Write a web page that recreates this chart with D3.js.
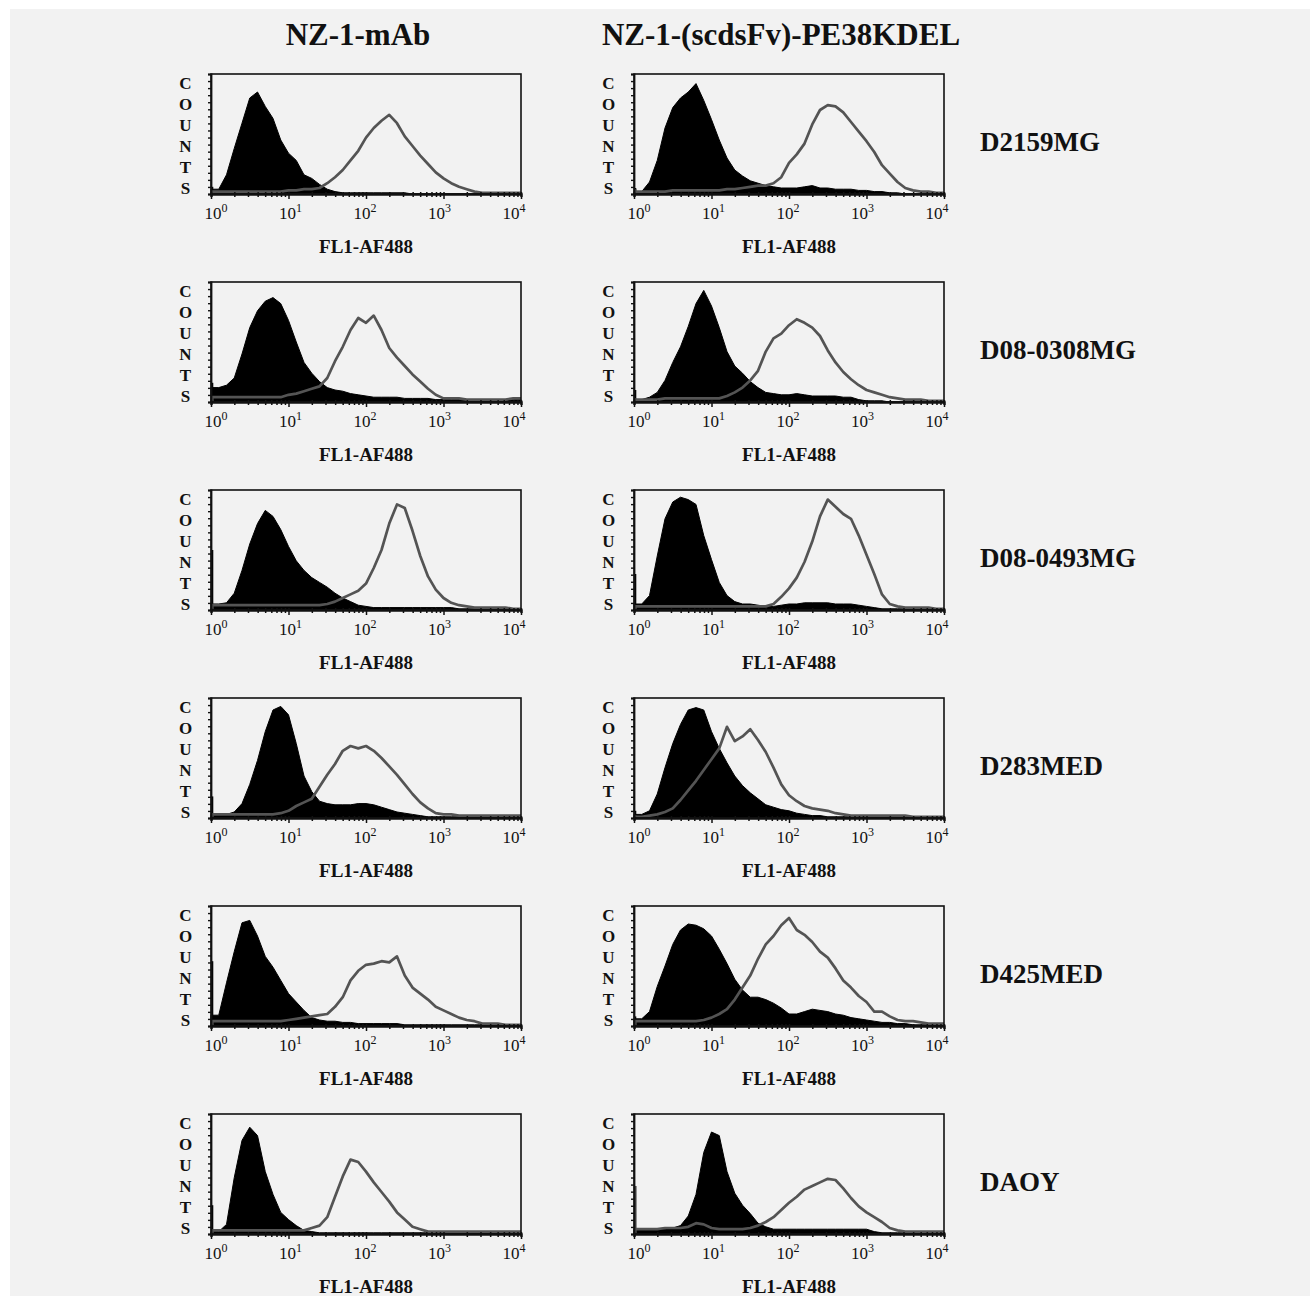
<!DOCTYPE html>
<html>
<head>
<meta charset="utf-8">
<script src="https://cdn.jsdelivr.net/npm/d3@7"></script>
<style>
  body { margin: 0; background: #fff; }
  text { font-family: "Liberation Serif", "Times New Roman", serif; font-weight: bold; fill: #111; }
</style>
</head>
<body>
<div id="chart"></div>
<script>
// columns, cell lines and decade exponents of the FL1 axis
const columns = ["NZ-1-mAb", "NZ-1-(scdsFv)-PE38KDEL"];
const cellLines = ["D2159MG", "D08-0308MG", "D08-0493MG", "D283MED", "D425MED", "DAOY"];
const decades = [0, 1, 2, 3, 4];
const axisTitle = "FL1-AF488";
const yLetters = ["C", "O", "U", "N", "T", "S"];
const binStep = 0.1; // bins every 0.1 decade, 10^0 .. 10^4 (41 bins)

// counts as % of the plot height; ctrl = filled black, stain = grey line
const mab_D2159MG_ctrl  = [6,4,16,38,59,80,85,73,63,45,34,28,16,13,8,4,2,1,1,1,1,1,1,1,1,1,0,0,0,0,0,0,0,0,0,0,0,0,0,0,0];
const mab_D2159MG_stain = [2,2,2,2,2,2,2,2,2,2,3,3,4,4,5,9,14,20,28,36,47,55,61,66,59,48,40,32,25,18,13,9,6,4,2,1,1,1,1,1,1];
const imm_D2159MG_ctrl  = [5,2,10,28,55,72,80,85,92,78,62,45,30,20,15,11,9,7,6,5,5,5,6,7,5,5,4,4,4,3,3,2,2,1,1,0,0,0,0,0,0];
const imm_D2159MG_stain = [4,2,2,2,2,3,3,3,3,3,3,3,4,4,5,6,7,7,9,14,26,33,42,58,70,74,73,68,60,52,44,35,24,17,10,5,3,2,2,1,1];

const mab_D080308MG_ctrl  = [16,12,14,20,40,62,76,84,87,82,68,50,33,24,17,12,10,9,7,6,5,4,4,4,4,3,3,3,3,2,2,2,2,2,2,2,2,2,2,2,2];
const mab_D080308MG_stain = [5,4,4,4,4,4,4,4,4,4,6,7,9,11,13,20,34,46,60,70,66,72,60,45,37,30,23,17,11,6,3,3,3,2,2,2,2,2,2,3,3];
const imm_D080308MG_ctrl  = [10,2,4,8,18,33,46,63,82,93,80,62,42,30,24,17,12,8,7,6,6,7,6,5,5,5,5,4,4,2,1,1,1,0,0,0,0,0,0,0,0];
const imm_D080308MG_stain = [3,2,2,2,3,3,3,3,3,3,3,3,5,8,12,18,26,42,53,57,64,69,66,62,55,43,33,25,19,14,10,8,6,4,3,2,2,2,1,1,1];

const mab_D080493MG_ctrl  = [50,5,6,14,33,55,72,83,78,67,53,41,33,27,23,19,14,10,7,4,3,2,2,2,2,2,2,2,2,2,2,2,1,1,1,1,1,1,1,1,1];
const mab_D080493MG_stain = [5,4,4,4,4,4,4,4,4,4,4,4,4,4,4,5,7,10,13,16,22,35,50,72,88,85,66,45,28,17,10,6,4,3,2,2,2,2,2,1,1];
const imm_D080493MG_ctrl  = [30,5,12,45,76,90,94,92,88,62,42,23,12,7,5,5,4,3,3,4,5,5,6,6,6,6,5,5,5,4,3,2,1,1,1,1,1,1,1,1,1];
const imm_D080493MG_stain = [3,3,3,3,3,3,3,3,3,3,3,3,3,3,3,3,3,3,5,11,18,27,40,57,78,92,86,80,76,62,46,30,13,5,3,2,2,2,2,1,1];

const mab_D283MED_ctrl  = [18,3,3,5,12,28,48,72,90,93,86,62,35,22,14,12,11,11,11,12,12,11,9,7,5,4,3,2,1,1,1,1,1,1,1,1,1,1,1,1,1];
const mab_D283MED_stain = [3,3,3,3,3,3,3,3,3,4,6,10,13,16,26,36,45,56,60,58,60,56,50,43,36,28,20,13,8,4,3,3,2,2,2,2,2,2,2,2,2];
const imm_D283MED_ctrl  = [6,3,6,20,42,62,78,90,92,90,72,58,46,35,27,21,16,11,9,7,6,4,3,2,2,1,1,1,1,1,1,1,1,1,1,1,1,1,1,1,1];
const imm_D283MED_stain = [2,1,2,3,5,8,15,23,31,40,49,58,76,64,68,74,65,55,42,28,19,14,10,8,7,6,4,3,2,2,2,2,2,2,2,2,1,1,1,1,1];

const mab_D425MED_ctrl  = [54,9,36,62,86,88,75,58,49,38,27,20,13,7,5,4,4,3,3,2,2,2,2,2,2,1,1,1,1,1,1,1,1,1,1,1,1,1,1,1,1];
const mab_D425MED_stain = [4,4,4,4,4,4,4,4,4,4,5,6,7,8,9,10,16,24,38,46,51,52,54,53,58,42,32,27,22,16,13,10,7,5,4,2,2,2,1,1,1];
const imm_D425MED_ctrl  = [8,6,12,33,50,68,80,85,84,81,75,64,52,39,30,24,24,22,19,15,10,10,12,14,13,12,10,9,7,6,5,4,3,3,2,2,1,1,1,1,1];
const imm_D425MED_stain = [4,4,4,4,4,4,4,4,4,5,7,10,14,22,32,42,56,68,75,84,90,80,76,70,62,57,48,38,32,25,20,12,12,8,5,4,4,3,2,2,2];

const mab_DAOY_ctrl  = [24,2,8,47,78,89,82,52,33,18,12,7,3,2,1,1,1,1,1,1,1,1,1,1,1,1,1,1,1,1,1,1,1,1,1,1,1,1,1,1,1];
const mab_DAOY_stain = [3,3,3,3,3,3,3,3,3,3,3,3,3,5,7,14,31,48,62,60,52,43,35,27,18,12,6,4,2,2,2,2,2,2,2,2,2,2,2,2,2];
const imm_DAOY_ctrl  = [5,4,4,4,4,5,7,15,33,68,85,82,52,34,24,17,9,6,4,4,4,4,4,4,4,4,4,4,4,4,4,2,1,1,1,1,1,1,1,1,1];
const imm_DAOY_stain = [40,4,4,4,5,5,5,6,9,8,5,4,4,4,4,5,7,10,14,20,26,31,37,40,43,46,45,38,30,23,18,14,10,5,3,2,2,2,2,2,2];

// [row][col] -> {ctrl, stain}
const panels = [
  [{ ctrl: mab_D2159MG_ctrl, stain: mab_D2159MG_stain }, { ctrl: imm_D2159MG_ctrl, stain: imm_D2159MG_stain }],
  [{ ctrl: mab_D080308MG_ctrl, stain: mab_D080308MG_stain }, { ctrl: imm_D080308MG_ctrl, stain: imm_D080308MG_stain }],
  [{ ctrl: mab_D080493MG_ctrl, stain: mab_D080493MG_stain }, { ctrl: imm_D080493MG_ctrl, stain: imm_D080493MG_stain }],
  [{ ctrl: mab_D283MED_ctrl, stain: mab_D283MED_stain }, { ctrl: imm_D283MED_ctrl, stain: imm_D283MED_stain }],
  [{ ctrl: mab_D425MED_ctrl, stain: mab_D425MED_stain }, { ctrl: imm_D425MED_ctrl, stain: imm_D425MED_stain }],
  [{ ctrl: mab_DAOY_ctrl, stain: mab_DAOY_stain }, { ctrl: imm_DAOY_ctrl, stain: imm_DAOY_stain }]
];

const W = 1310, H = 1303;
const boxW = 310, boxH = 120;
const colX = [211, 634];
const rowTop0 = 74, rowGap = 208;

const svg = d3.select("#chart").append("svg")
    .attr("width", W)
    .attr("height", H);

svg.append("rect").attr("width", W).attr("height", H).attr("fill", "#fff");
svg.append("rect")
    .attr("x", 10).attr("y", 9)
    .attr("width", W - 10).attr("height", H - 16)
    .attr("fill", "#f2f2f2");

// column titles
svg.selectAll(".col-title")
    .data(columns)
    .join("text")
    .attr("class", "col-title")
    .attr("x", (d, i) => colX[i] + boxW / 2 - 8)
    .attr("y", 45)
    .attr("text-anchor", "middle")
    .style("font-size", "31px")
    .text(d => d);

// row labels
svg.selectAll(".row-label")
    .data(cellLines)
    .join("text")
    .attr("class", "row-label")
    .attr("x", 980)
    .attr("y", (d, i) => rowTop0 + i * rowGap + 77)
    .style("font-size", "27px")
    .text(d => d);

const x = d3.scaleLog().domain([1, 1e4]).range([0, boxW]);
const y = d3.scaleLinear().domain([0, 100]).range([boxH, 0]);

// bins 1..40 as points, bin 1 also carried to the left edge
function toPoints(vals) {
  const pts = vals.map((v, i) => ({ e: i * binStep, v: v }));
  return [{ e: 0, v: vals[1] }].concat(pts.slice(1));
}

const area = d3.area()
    .x(d => x(Math.pow(10, d.e)))
    .y0(boxH)
    .y1(d => y(d.v));

const line = d3.line()
    .x(d => x(Math.pow(10, d.e)))
    .y(d => y(d.v));

// all minor/major ticks for the log axis
const logTicks = [];
decades.slice(0, -1).forEach(k => {
  for (let m = 1; m < 10; m++) logTicks.push(m * Math.pow(10, k));
});
logTicks.push(1e4);
const isDecade = d => decades.some(k => Math.pow(10, k) === d);

panels.forEach((row, r) => {
  row.forEach((p, c) => {
    const g = svg.append("g")
        .attr("transform", `translate(${colX[c]},${rowTop0 + r * rowGap})`);

    // control: filled black
    g.append("path")
        .datum(toPoints(p.ctrl))
        .attr("d", area)
        .attr("fill", "#000")
        .attr("stroke", "#000")
        .attr("stroke-width", 1);
    g.append("line")
        .attr("x1", 1.2).attr("x2", 1.2)
        .attr("y1", boxH).attr("y2", y(p.ctrl[0]))
        .attr("stroke", "#000").attr("stroke-width", 2.2);

    // stained: grey outline
    g.append("path")
        .datum(toPoints(p.stain))
        .attr("d", line)
        .attr("fill", "none")
        .attr("stroke", "#545454")
        .attr("stroke-width", 2.7)
        .attr("stroke-linejoin", "round");
    g.append("line")
        .attr("x1", 1.5).attr("x2", 1.5)
        .attr("y1", boxH).attr("y2", y(p.stain[0]))
        .attr("stroke", "#545454").attr("stroke-width", 2.2);

    // frame
    g.append("rect")
        .attr("width", boxW).attr("height", boxH)
        .attr("fill", "none")
        .attr("stroke", "#111")
        .attr("stroke-width", 1.6);

    // bottom log axis
    const xa = g.append("g")
        .attr("transform", `translate(0,${boxH})`)
        .call(d3.axisBottom(x).tickValues(logTicks).tickSize(3).tickFormat(""));
    xa.select(".domain").attr("stroke", "#111").attr("stroke-width", 2.4);
    xa.selectAll(".tick line")
        .attr("stroke", "#111")
        .attr("stroke-width", 1.5)
        .attr("y1", -2)
        .attr("y2", d => isDecade(d) ? 5 : 3);

    // left counts axis
    const ya = g.append("g")
        .call(d3.axisLeft(y).tickValues(d3.range(0, 100.1, 100 / 17)).tickSize(3).tickFormat(""));
    ya.select(".domain").attr("stroke", "#111").attr("stroke-width", 1.8);
    ya.selectAll(".tick line").attr("stroke", "#111").attr("stroke-width", 1.4);

    // decade labels 10^k
    const lbl = g.selectAll(".dec")
        .data(decades)
        .join("text")
        .attr("class", "dec")
        .attr("x", k => x(Math.pow(10, k)) + 5 - 3 * k)
        .attr("y", boxH + 25)
        .attr("text-anchor", "middle")
        .style("font-size", "17px")
        .style("font-weight", "normal");
    lbl.append("tspan").text("10");
    lbl.append("tspan")
        .attr("dy", -7)
        .style("font-size", "12px")
        .text(k => k);

    // axis title
    g.append("text")
        .attr("x", boxW / 2)
        .attr("y", boxH + 58.5)
        .attr("text-anchor", "middle")
        .style("font-size", "19px")
        .text(axisTitle);

    // vertical "COUNTS"
    g.selectAll(".ylet")
        .data(yLetters)
        .join("text")
        .attr("class", "ylet")
        .attr("x", -25.5)
        .attr("y", (d, i) => 15 + i * 21)
        .attr("text-anchor", "middle")
        .style("font-size", "17px")
        .text(d => d);
  });
});
</script>
</body>
</html>
